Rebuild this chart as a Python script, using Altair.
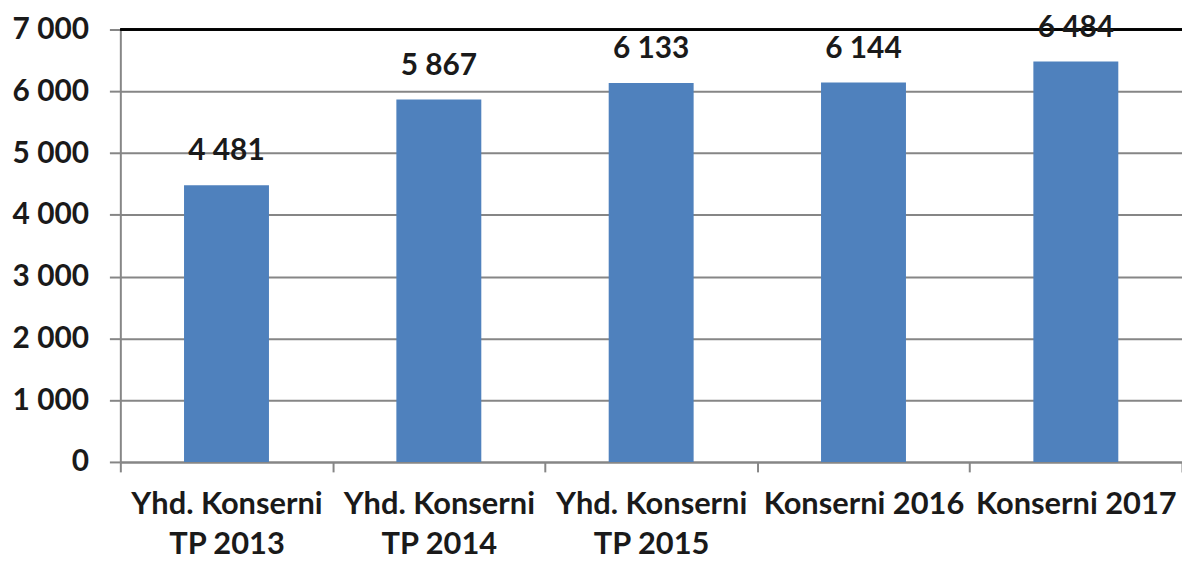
import altair as alt
import pandas as pd

categories = ["Yhd. Konserni\nTP 2013", "Yhd. Konserni\nTP 2014", "Yhd. Konserni\nTP 2015",
              "Konserni 2016", "Konserni 2017"]
values = [4481, 5867, 6133, 6144, 6484]

df = pd.DataFrame({"cat": categories, "val": values})

FONT = "Lato"
TXT = "#1a1a1a"
GRID = "#868686"

x = alt.X("cat:N", sort=categories, title=None,
          scale=alt.Scale(paddingInner=0, paddingOuter=0),
          axis=alt.Axis(labelAngle=0, labelExpr="split(datum.label, '\\n')",
                        labelFont=FONT, labelFontSize=31, labelFontWeight="bold",
                        labelColor=TXT, labelLineHeight=40, labelPadding=18,
                        labelLimit=400, labelOverlap=False,
                        tickBand="extent", tickSize=10, tickColor=GRID, tickWidth=2,
                        domainColor=GRID, domainWidth=2, grid=False))

y = alt.Y("val:Q", title=None,
          scale=alt.Scale(domain=[0, 7000]),
          axis=alt.Axis(values=[0, 1000, 2000, 3000, 4000, 5000, 6000, 7000],
                        labelExpr="replace(format(datum.value, ','), ',', ' ')",
                        labelFont=FONT, labelFontSize=30, labelFontWeight="bold",
                        labelColor=TXT, labelPadding=21, labelLimit=300,
                        tickSize=11, tickColor=GRID, tickWidth=2,
                        domainColor=GRID, domainWidth=2,
                        gridColor=GRID, gridWidth=2))

bars = alt.Chart(df).mark_bar(color="#4F81BD", width=alt.RelativeBandSize(0.4)).encode(x=x, y=y)

text = alt.Chart(df).transform_calculate(
    lab="replace(format(datum.val, ','), ',', ' ')"
).mark_text(font=FONT, fontSize=30, fontWeight="bold", color=TXT,
            baseline="bottom", dy=-19).encode(
    x=alt.X("cat:N", sort=categories), y=alt.Y("val:Q"), text="lab:N")

top = alt.Chart(df).mark_rule(color="black", strokeWidth=2).encode(
    y=alt.datum(7000))

chart = alt.layer(bars, top, text).properties(
    width=1068, height=435,
    autosize=alt.AutoSizeParams(type="none"),
    padding={"left": 113, "top": 20, "right": 0, "bottom": 97},
).configure_view(stroke=None).configure_axis(labelFont=FONT)

chart.save("out.html", embed_options={"renderer": "svg", "actions": False})
